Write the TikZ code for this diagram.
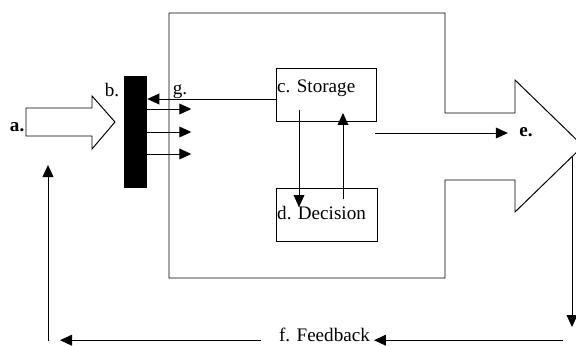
\documentclass[tikz,border=0pt]{standalone}
\usepackage{fontspec}
\setmainfont{Liberation Serif}
\usepackage{tikz}
\usetikzlibrary{arrows.meta, positioning, calc}
\definecolor{myink}{RGB}{0,0,0}
\tikzset{
  box/.style={rectangle, draw=myink, minimum width=2.5cm,
    minimum height=1.325cm, line width=0.7pt, inner sep=0pt},
  tag/.style={font=\fontsize{13.6}{16}\selectfont, inner sep=1pt, text=myink},
  boldtag/.style={tag, font=\fontsize{13.6}{16}\selectfont\bfseries},
  arrow/.style={-{Triangle[length=0.3cm, width=0.27cm]}, line width=0.7pt, color=myink},
  line/.style={line width=0.7pt, color=myink}
}

\begin{document}
\begin{tikzpicture}
  \useasboundingbox (0,0) rectangle (14.4,8.625);
  % system boundary with output arrow
  \draw[line] (4.225,8.3) -- (11.125,8.3) -- (11.125,5.8) -- (12.875,5.8)
    -- (12.875,6.625) -- (14.575,4.975) -- (12.875,3.325) -- (12.875,4.125)
    -- (11.125,4.125) -- (11.125,1.675) -- (4.225,1.675) -- cycle;
  % input arrow
  \draw[line] (0.65,5.925) -- (2.3,5.925) -- (2.3,6.225) -- (2.875,5.575)
    -- (2.3,4.9) -- (2.3,5.225) -- (0.65,5.225) -- cycle;
  \node[boldtag, anchor=east] (intag) at (0.65,5.45) {a.};
  % filter bar
  \node[rectangle, fill=myink, minimum width=0.575cm, minimum height=2.8cm,
        inner sep=0pt] (bar) at (3.3875,5.325) {};
  \node[tag] (btag) at (2.8,6.375) {b.};
  \node[tag] (gtag) at (4.5,6.325) {g.};
  % storage and decision
  \node[box, label={[tag, anchor=north west, yshift=-0.26cm]north west:c. Storage}]
       (storage) at (8.15,6.2625) {};
  \node[box, minimum width=2.525cm,
        label={[tag, anchor=west, yshift=0.05cm]west:d. Decision}]
       (decision) at (8.1625,3.25) {};
  \draw[arrow] (storage.west |- 0,6.15) -- (bar.east |- 0,6.15);
  \foreach \y in {5.9,5.325,4.775}
    \draw[arrow] (bar.east |- 0,\y) -- ++(1.1,0);
  \coordinate (downstart) at (7.475,5.875);
  \coordinate (downend) at (7.475,3.45);
  \coordinate (upstart) at (8.575,3.65);
  \coordinate (upend) at (8.575,5.8);
  \draw[arrow] (downstart) -- (downend);
  \draw[arrow] (upstart) -- (upend);
  % output
  \node[boldtag] (etag) at (13.15,5.325) {e.};
  \coordinate (eout) at (9.375,5.3);
  \draw[arrow] (eout) -- ([xshift=-0.245cm]etag.west |- eout);
  % feedback loop
  \coordinate (outtop) at (14.3,4.7);
  \coordinate (outend) at (14.3,0.45);
  \draw[arrow] (outtop) -- (outend);
  \node[tag, anchor=base] (fb) at (8.1125,0.08) {f. Feedback};
  \coordinate (fbstart) at (14.075,0.12);
  \coordinate (fbleft) at ($(fb.west |- fbstart)+(-0.4,0)$);
  \coordinate (fbend) at (1.5,0.12);
  \draw[arrow] (fbstart) -- ([xshift=0.06cm]fb.east |- fbstart);
  \draw[arrow] (fbleft) -- (fbend);
  \coordinate (inbottom) at (1.2,0.095);
  \coordinate (intop) at (1.2,4.5);
  \draw[arrow] (inbottom) -- (intop);
\end{tikzpicture}
\end{document}
